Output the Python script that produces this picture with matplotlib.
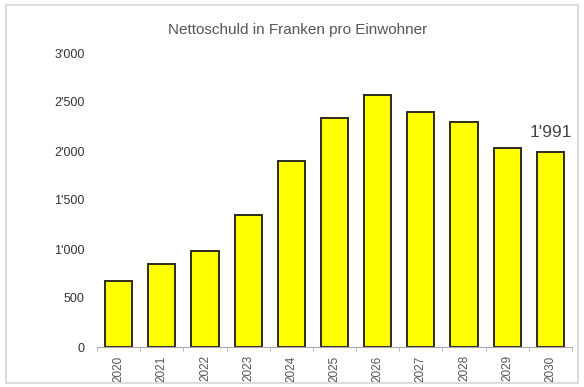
import matplotlib.pyplot as plt
from matplotlib.patches import Rectangle
from matplotlib.ticker import FuncFormatter

years = ['2020', '2021', '2022', '2023', '2024', '2025', '2026', '2027', '2028', '2029', '2030']
debt = [675, 850, 980, 1350, 1900, 2335, 2570, 2395, 2295, 2030, 1991]
yticks = [0, 500, 1000, 1500, 2000, 2500, 3000]
title = 'Nettoschuld in Franken pro Einwohner'

plt.rcParams['font.family'] = ['Liberation Sans', 'DejaVu Sans']

fig = plt.figure(figsize=(5.84, 3.87), dpi=100)
ax = fig.add_axes([97 / 584, 1 - 347 / 387, (572 - 97) / 584, (347 - 53) / 387])

x = list(range(len(years)))
ax.bar(x, debt, width=0.63, color='#ffff00', edgecolor='#2e2b1c', linewidth=1.4)

ax.set_xlim(-0.5, len(years) - 0.5)
ax.set_ylim(0, 3000)

def thousands(v, pos):
    v = int(v)
    if v >= 1000:
        return f"{v // 1000}'{v % 1000:03d}"
    return str(v)

ax.set_yticks(yticks)
ax.yaxis.set_major_formatter(FuncFormatter(thousands))
ax.tick_params(axis='y', length=0, pad=9, labelsize=9, labelcolor='#333333')

ax.set_xticks(x)
ax.set_xticklabels(years, rotation=90)
ax.tick_params(axis='x', which='major', length=0, pad=6, labelsize=8.5, labelcolor='#555555')
ax.set_xticks([i - 0.5 for i in range(len(years) + 1)], minor=True)
ax.tick_params(axis='x', which='minor', length=3, color='#aaaaaa', direction='out')

for s in ['top', 'right', 'left']:
    ax.spines[s].set_visible(False)
ax.spines['bottom'].set_color('#aaaaaa')
ax.spines['bottom'].set_linewidth(0.8)

ax.text(x[-1], debt[-1] + 120, thousands(debt[-1], None), ha='center', va='bottom',
        fontsize=12.5, color='#444444')

fig.text(298 / 584, 1 - 30 / 387, title, ha='center', va='center', fontsize=11, color='#555555')

fig.patches.append(Rectangle((6 / 584, 1 - 383 / 387), (578 - 6) / 584, (383 - 5) / 387,
                             transform=fig.transFigure, fill=False, edgecolor='#d6d6d6', linewidth=1.2))

fig.savefig('out.png', dpi=100)
